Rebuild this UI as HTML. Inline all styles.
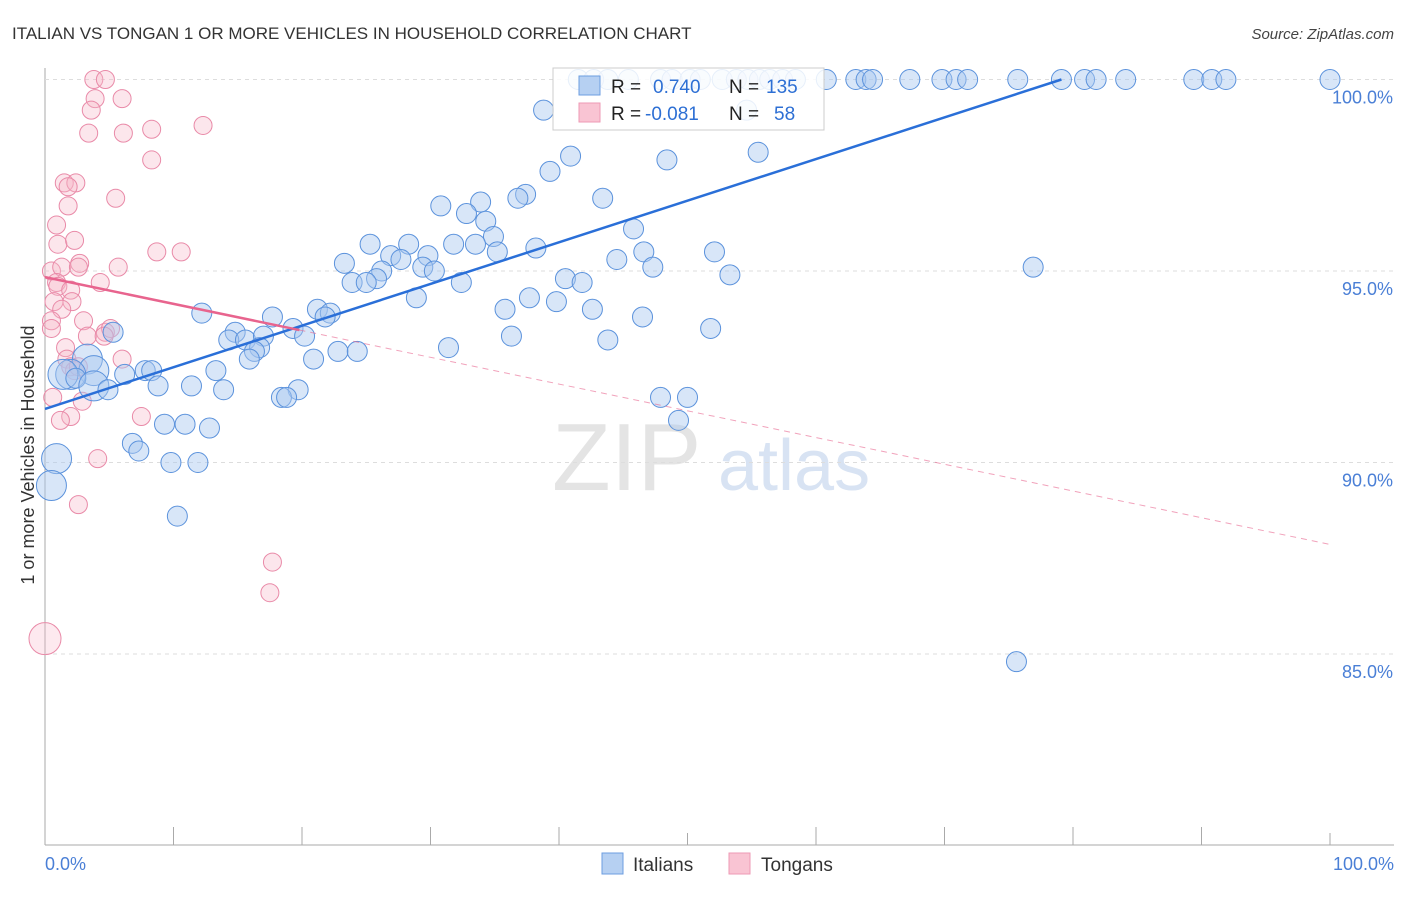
<!DOCTYPE html>
<html><head><meta charset="utf-8"><style>
body{margin:0;background:#fff;font-family:"Liberation Sans",sans-serif;}
svg text{font-family:"Liberation Sans",sans-serif;}
</style></head><body>
<svg id="chart" width="1406" height="892" xmlns="http://www.w3.org/2000/svg">
<text x="12" y="39" font-size="17" fill="#333">ITALIAN VS TONGAN 1 OR MORE VEHICLES IN HOUSEHOLD CORRELATION CHART</text>
<text x="1394" y="39" font-size="15" fill="#444" text-anchor="end" font-style="italic">Source: ZipAtlas.com</text>
<text transform="translate(34,455) rotate(-90)" font-size="18" fill="#333" text-anchor="middle">1 or more Vehicles in Household</text>
<g><text x="552" y="490" font-size="96" fill="#e4e4e4" font-family="Liberation Serif,serif">ZIP</text><text x="718" y="490" font-size="72" fill="#d8e3f3">atlas</text></g>
<g id="grid"></g><g id="pts"></g><g id="lines"></g>
<g>
<rect x="553" y="68" width="271" height="62" fill="#fff" fill-opacity="0.85" stroke="#ccc"/>
<rect x="579" y="76" width="21" height="19" fill="#b6d0f2" stroke="#6c9ee0"/>
<rect x="579" y="103" width="21" height="19" fill="#f9c4d3" stroke="#ee9ab4"/>
<text x="611" y="93" font-size="19" fill="#222">R =</text><text x="653" y="93" font-size="19" fill="#2d6fd4">0.740</text>
<text x="729" y="93" font-size="19" fill="#222">N =</text><text x="766" y="93" font-size="19" fill="#2d6fd4">135</text>
<text x="611" y="120" font-size="19" fill="#222">R =</text><text x="645" y="120" font-size="19" fill="#2d6fd4">-0.081</text>
<text x="729" y="120" font-size="19" fill="#222">N =</text><text x="774" y="120" font-size="19" fill="#2d6fd4">58</text>
</g>
<g>
<rect x="602" y="853" width="21" height="21" fill="#b6d0f2" stroke="#6c9ee0"/>
<text x="633" y="871" font-size="19" fill="#333">Italians</text>
<rect x="729" y="853" width="21" height="21" fill="#f9c4d3" stroke="#ee9ab4"/>
<text x="761" y="871" font-size="19" fill="#333">Tongans</text>
</g>
</svg>
<script>
const yTicks=[100,95,90,85];
const yTickLabels=["100.0%","95.0%","90.0%","85.0%"];
const xEndLabels=["0.0%","100.0%"];
const italX=[41.5,42.7,43.8,45.4,47.9,48.8,50.2,51.0,52.7,53.8,54.7,55.6,56.4,57.4,58.4,60.8,63.1,63.9,64.4,67.3,69.8,70.9,71.8,75.7,79.1,80.9,81.8,84.1,89.4,90.8,91.9,100,
38.8,54.6,40.9,55.5,48.4,39.3,37.4,36.8,43.4,33.9,30.8,32.8,34.3,34.9,45.8,25.3,33.5,31.8,28.3,38.2,46.6,52.1,35.2,29.8,26.9,27.7,23.3,44.5,29.4,30.3,47.3,76.9,26.2,25.8,53.3,40.5,41.8,23.9,25.0,32.4,37.7,39.8,28.9,35.8,42.6,46.5,21.2,22.2,21.8,17.7,12.2,19.3,51.8,14.8,20.2,36.3,14.3,43.8,15.6,17.0,16.7,16.3,31.4,22.8,24.3,15.9,20.9,5.3,13.3,6.2,7.8,8.3,3.3,3.8,2.0,1.4,2.4,8.8,11.4,19.7,13.9,3.8,4.9,18.4,18.8,47.9,50.0,9.3,10.9,12.8,49.3,6.8,7.3,9.8,11.9,0.9,0.5,10.3,75.6];
const italY=[100,100,100,100,100,100,100,100,100,100,100,100,100,100,100,100,100,100,100,100,100,100,100,100,100,100,100,100,100,100,100,100,
99.2,99.2,98.0,98.1,97.9,97.6,97.0,96.9,96.9,96.8,96.7,96.5,96.3,95.9,96.1,95.7,95.7,95.7,95.7,95.6,95.5,95.5,95.5,95.4,95.4,95.3,95.2,95.3,95.1,95.0,95.1,95.1,95.0,94.8,94.9,94.8,94.7,94.7,94.7,94.7,94.3,94.2,94.3,94.0,94.0,93.8,94.0,93.9,93.8,93.8,93.9,93.5,93.5,93.4,93.3,93.3,93.2,93.2,93.2,93.3,93.0,92.9,93.0,92.9,92.9,92.7,92.7,93.4,92.4,92.3,92.4,92.4,92.7,92.4,92.3,92.3,92.2,92.0,92.0,91.9,91.9,92.0,91.9,91.7,91.7,91.7,91.7,91.0,91.0,90.9,91.1,90.5,90.3,90.0,90.0,90.1,89.4,88.6,84.8];
const italBig=[1.4,3.3,3.8,2.0,0.9,0.5,5.3];
const tongX=[3.8,4.7,3.9,3.6,6.0,3.4,6.1,8.3,12.3,8.3,1.5,2.4,1.8,5.5,1.8,0.9,1.0,2.3,8.7,10.6,0.5,1.3,2.7,2.6,5.7,0.9,1.0,4.3,2.0,2.1,0.7,1.3,3.0,0.5,0.5,4.7,5.1,3.3,4.6,1.6,1.7,6.0,2.0,2.3,2.6,2.9,0.6,7.5,2.0,1.2,4.1,2.6,17.7,17.5,0];
const tongY=[100,100,99.5,99.2,99.5,98.6,98.6,98.7,98.8,97.9,97.3,97.3,97.2,96.9,96.7,96.2,95.7,95.8,95.5,95.5,95.0,95.1,95.2,95.1,95.1,94.7,94.6,94.7,94.5,94.2,94.2,94.0,93.7,93.7,93.5,93.4,93.5,93.3,93.3,93.0,92.7,92.7,92.5,92.4,92.5,91.6,91.7,91.2,91.2,91.1,90.1,88.9,87.4,86.6,85.4];
const italTrend=[91.4,100,0,79.1];   // y at x0, y at x1, x0, x1
const tongTrend=[94.84,87.86,19.8];  // y at 0, y at 100, solid end
const X=v=>45+v*12.85, Y=v=>79.5+(100-v)*38.3;
const NS="http://www.w3.org/2000/svg";
function mk(p,t,a){const e=document.createElementNS(NS,t);for(const k in a)e.setAttribute(k,a[k]);p.appendChild(e);return e;}
const svg=document.getElementById('chart'),grid=document.getElementById('grid'),pts=document.getElementById('pts'),lines=document.getElementById('lines');
mk(grid,'line',{x1:45,y1:68,x2:45,y2:845,stroke:'#aaa'});
mk(grid,'line',{x1:45,y1:845,x2:1394,y2:845,stroke:'#aaa'});
for(let i=0;i<=10;i++){const l=mk(grid,'line',{x1:X(i*10),y1:845,x2:X(i*10),y2:i%5==0?833:827,stroke:'#aaa'});

}
yTicks.forEach((t,i)=>{const l=mk(grid,'line',{x1:45,y1:Y(t),x2:1394,y2:Y(t),stroke:'#ddd','stroke-dasharray':'4,4'});


const tx=mk(grid,'text',{x:1393,y:Y(t)+24,'font-size':18,fill:'#4a7fd6','text-anchor':'end'});tx.textContent=yTickLabels[i];

});
[[0,'start',45],[1,'end',1394]].forEach(([i,a,x])=>{const tx=mk(grid,'text',{x:x,y:870,'font-size':18,fill:'#4a7fd6','text-anchor':a});tx.textContent=xEndLabels[i];

});
tongX.forEach((x,i)=>{const big=tongY[i]<86;const c=mk(pts,'circle',{cx:X(x),cy:Y(tongY[i]),r:big?16:9,fill:'#f7b6c9','fill-opacity':big?0.3:0.35,stroke:'#e98aa8','stroke-width':1});

});
italX.forEach((x,i)=>{const big=italBig.includes(x)&&i>100;const c=mk(pts,'circle',{cx:X(x),cy:Y(italY[i]),r:big?15:10,fill:'#a9c7ef','fill-opacity':0.45,stroke:'#5b92dc','stroke-width':1});

});
const bl=mk(lines,'line',{x1:X(italTrend[2]),y1:Y(italTrend[0]),x2:X(italTrend[3]),y2:Y(italTrend[1]),stroke:'#2a6fd8','stroke-width':2.5});


const ty=x=>tongTrend[0]+(tongTrend[1]-tongTrend[0])*x/100;
const pl=mk(lines,'line',{x1:X(0),y1:Y(ty(0)),x2:X(tongTrend[2]),y2:Y(ty(tongTrend[2])),stroke:'#e8648e','stroke-width':2.5});


const pd=mk(lines,'line',{x1:X(tongTrend[2]),y1:Y(ty(tongTrend[2])),x2:X(100),y2:Y(ty(100)),stroke:'#e8648e','stroke-width':1,'stroke-dasharray':'6,5','stroke-opacity':0.6});


</script>
</body></html>
